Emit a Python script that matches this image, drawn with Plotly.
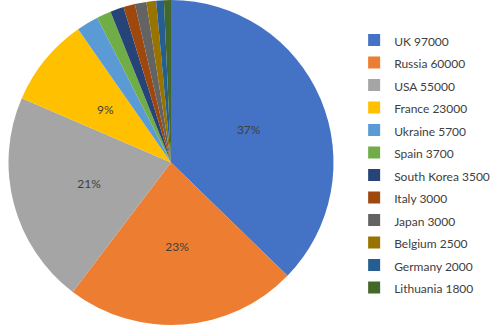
import plotly.graph_objects as go

countries = ["UK", "Russia", "USA", "France", "Ukraine", "Spain", "South Korea",
             "Italy", "Japan", "Belgium", "Germany", "Lithuania"]
values = [97000, 60000, 55000, 23000, 5700, 3700, 3500, 3000, 3000, 2500, 2000, 1800]
colors = ["#4472C4", "#ED7D31", "#A5A5A5", "#FFC000", "#5B9BD5", "#70AD47",
          "#264478", "#9E480E", "#636363", "#997300", "#255E91", "#43682B"]
show_pct = [True, True, True, True] + [False] * 8

labels = [f'<span style="font-size:12px">{c} {v}</span>' for c, v in zip(countries, values)]
templates = ["%{percent:.0%}" if s else "" for s in show_pct]

W, H = 496, 331
CX, CY, R = 171, 162.5, 162.5          # pie centre / radius in pixels
LR = 0.65                              # radius of label ring relative to pie
HOLE = 0.6


def dom(radius):
    return dict(x=[(CX - radius) / W, (CX + radius) / W],
                y=[(H - CY - radius) / H, min(1, (H - CY + radius) / H)])


fig = go.Figure()
# main pie (coloured slices, legend)
fig.add_trace(go.Pie(
    labels=labels, values=values, sort=False, direction="clockwise", rotation=0,
    marker=dict(colors=colors, line=dict(width=0)),
    textinfo="none", domain=dom(R), hoverinfo="label+percent",
))
# transparent ring carrying the percentage labels (Excel-like label radius)
fig.add_trace(go.Pie(
    labels=labels, values=values, sort=False, direction="clockwise", rotation=0,
    hole=HOLE, showlegend=False, hoverinfo="skip",
    marker=dict(colors=["rgba(0,0,0,0)"] * len(values), line=dict(width=0)),
    texttemplate=templates, textposition="inside", insidetextorientation="horizontal",
    textfont=dict(family="Lato, Open Sans, sans-serif", size=12, color="#404040"),
    domain=dom(R * LR),
))
fig.update_layout(
    width=W, height=H, margin=dict(l=0, r=0, t=0, b=0, autoexpand=False),
    paper_bgcolor="white", plot_bgcolor="white",
    legend=dict(x=0.714, y=0.505, xanchor="left", yanchor="middle",
                font=dict(family="Lato, Open Sans, sans-serif", size=15, color="#404040"),
                traceorder="normal"),
)
fig.write_html("out.html", config={"displayModeBar": False},
               post_script="document.body.style.margin='0';")
